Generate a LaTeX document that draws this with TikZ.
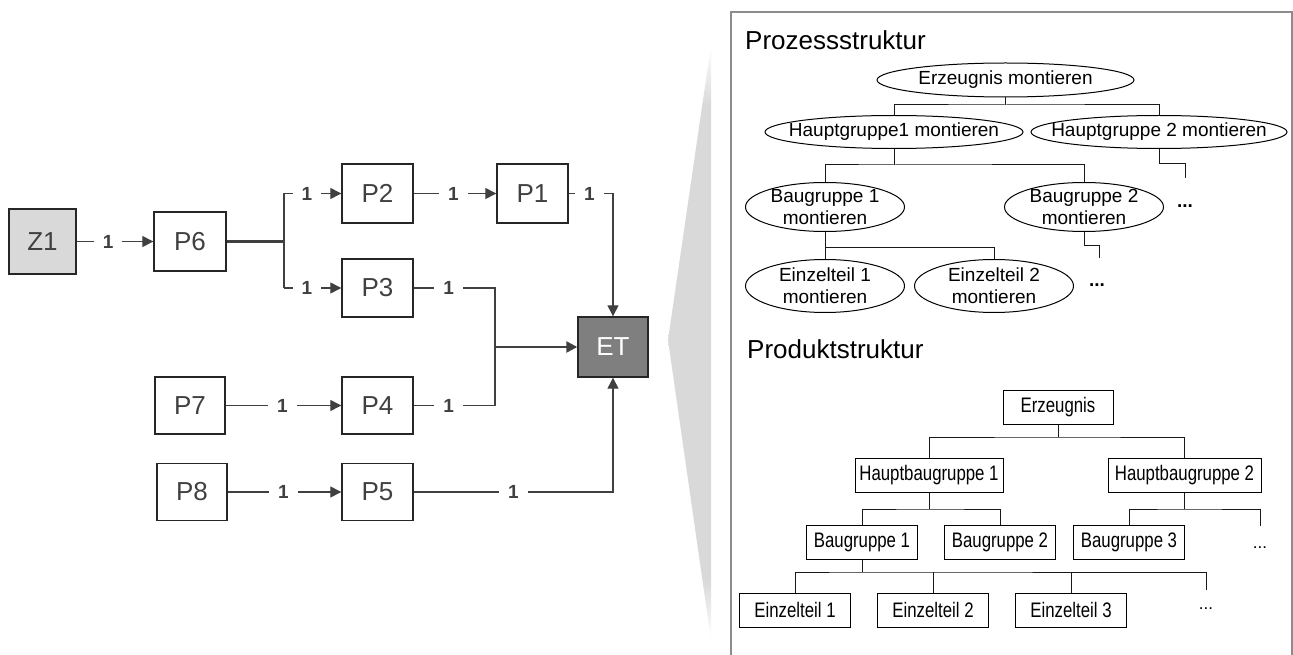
\documentclass[tikz,border=0pt]{standalone}
\usepackage{fontspec}
\setmainfont{Liberation Sans}
\newfontfamily\condfont{Liberation Sans}[FakeStretch=0.8]
\usetikzlibrary{arrows.meta,shapes.geometric}

\definecolor{linegray}{HTML}{404040}
\definecolor{boxgray}{HTML}{D9D9D9}
\definecolor{etgray}{HTML}{7F7F7F}
\definecolor{panelgray}{HTML}{8C8C8C}
\definecolor{wedgegray}{HTML}{D9D9D9}

% light wedge that fades out towards both tips
\pgfdeclareverticalshading{wedgefade}{100bp}{color(0bp)=(white); color(25bp)=(white); color(30bp)=(wedgegray); color(70bp)=(wedgegray); color(75bp)=(white); color(100bp)=(white)}

\begin{document}
\begin{tikzpicture}[x=1pt,y=-1pt,
  proc/.style={draw=black!85, line width=1.4pt, minimum width=71pt, minimum height=58pt,
    inner sep=0pt, font=\fontsize{26}{28}\selectfont, text=linegray},
  conn/.style={draw=linegray, line width=1.3pt},
  heavy/.style={draw=linegray, line width=2.4pt},
  arr/.style={-{Triangle[length=11pt,width=11pt]}},
  qty/.style={fill=white, inner xsep=9pt, inner ysep=2pt,
    font=\bfseries\fontsize{19}{19}\selectfont, text=linegray},
  tree/.style={draw=black!90, line width=1pt},
  % ellipse sized by its minimum width/height only; the text sits in a centred label
  pell/.style={ellipse, draw=black, line width=1pt, inner sep=0pt,
    label={[inner sep=0pt, align=center, font=\fontsize{19}{22}\selectfont]center:#1}},
  pbox/.style={rectangle, draw=black, line width=1pt, inner sep=0pt, minimum height=34pt,
    minimum width=111pt, font=\condfont\fontsize{21}{23}\selectfont},
  title/.style={anchor=base west, inner sep=0pt, font=\fontsize{26}{28}\selectfont},
  dots/.style={inner sep=0pt, font=\fontsize{19}{19}\selectfont}
]
\useasboundingbox (0,0) rectangle (1293,655);

% ---------- process network ----------
\node[proc, fill=boxgray, minimum width=67pt, minimum height=65pt] (Z1) at (42.5,241.5) {Z1};
\node[proc, minimum width=72pt, minimum height=59pt] (P6) at (190,241.5) {P6};
\node[proc, minimum height=59pt] (P2) at (377.5,193.5) {P2};
\node[proc, minimum height=59pt] (P1) at (532.5,193.5) {P1};
\node[proc] (P3) at (377.5,288) {P3};
\node[proc, minimum height=57pt] (P4) at (377.5,405.5) {P4};
\node[proc, minimum width=70pt, minimum height=57pt] (P7) at (190,405.5) {P7};
\node[proc, minimum width=70pt, minimum height=57pt] (P8) at (192,492) {P8};
\node[proc, minimum height=57pt] (P5) at (377.5,492) {P5};
\node[proc, fill=etgray, text=white, minimum width=70pt, minimum height=60pt] (ET) at (613,347) {ET};

\draw[conn,arr] (Z1) -- node[qty,pos=0.41]{1} (P6);

\coordinate (fork) at (284,241.5);
\coordinate (forkA) at (284,193.5);
\coordinate (forkB) at (284,288);
\draw[heavy] (P6.east) -- (fork);
\draw[conn] (forkA) -- (forkB);
\draw[conn,arr] (forkA) -- node[qty,pos=0.4]{1} (P2.west);
\draw[conn,arr] (forkB) -- node[qty,pos=0.4]{1} (P3.west);

\draw[conn,arr] (P2) -- node[qty,pos=0.48]{1} (P1);
\draw[conn,arr] (P1.east) -- node[qty,pos=0.47]{1} (P1.east -| ET) -- (ET.north);

\coordinate (merge) at (495,347);
\draw[conn] (P3.east) -- node[qty,pos=0.43]{1} (P3.east -| merge) -- (merge);
\draw[conn] (P4.east) -- node[qty,pos=0.43]{1} (P4.east -| merge) -- (merge);
\draw[heavy,arr] (merge) -- (ET.west);

\draw[conn,arr] (P7) -- node[qty,pos=0.49]{1} (P4);
\draw[conn,arr] (P8) -- node[qty,pos=0.49]{1} (P5);
\draw[conn,arr] (P5.east) -- node[qty,pos=0.5]{1} (P5.east -| ET) -- (ET.south);

% ---------- zoom wedge ----------
\shade[shading=wedgefade] (711,45) -- (668,340) -- (711,640) -- cycle;

% ---------- detail panel ----------
\draw[draw=panelgray, line width=1.5pt] (731,655) -- (731,12) -- (1292,12) -- (1292,655);

\node[title] (tproc) at (745,50) {Prozessstruktur};
\node[title] (tprod) at (747,358) {Produktstruktur};

% process structure
\node[pell={Erzeugnis montieren}, minimum width=257pt, minimum height=34pt] (E0) at (1005.5,80) {};
\node[pell={Hauptgruppe1 montieren}, minimum width=258pt, minimum height=33pt] (HG1) at (894,132) {};
\node[pell={Hauptgruppe 2 montieren}, minimum width=256pt, minimum height=33pt] (HG2) at (1159,132) {};
\node[pell={Baugruppe 1\\montieren}, minimum width=159pt, minimum height=49pt] (BG1) at (825,207) {};
\node[pell={Baugruppe 2\\montieren}, minimum width=159pt, minimum height=49pt] (BG2) at (1084,207) {};
\node[pell={Einzelteil 1\\montieren}, minimum width=159pt, minimum height=53pt] (ET1) at (825,286) {};
\node[pell={Einzelteil 2\\montieren}, minimum width=159pt, minimum height=53pt] (ET2) at (994,286) {};
\node[dots, font=\bfseries\fontsize{19}{19}\selectfont] (d1) at (1185,206) {...};
\node[dots, font=\bfseries\fontsize{19}{19}\selectfont] (d2) at (1097,285) {...};

\coordinate (j0) at (1005.5,105);
\draw[tree] (E0.south) -- (j0);
\draw[tree] (HG1.north) |- (j0) -| (HG2.north);
\coordinate (j1) at (894,165);
\draw[tree] (HG1.south) -- (j1);
\draw[tree] (BG1.north) |- (j1) -| (BG2.north);
\coordinate (s1) at (1185,178);
\draw[tree] (HG2.south) -- ++(0,15) -| (s1);
\coordinate (j2) at (825,247);
\draw[tree] (BG1.south) -- (ET1.north);
\draw[tree] (j2) -| (ET2.north);
\coordinate (s2) at (1099,258);
\draw[tree] (BG2.south) -- ++(0,13) -| (s2);

% product structure
\node[pbox, minimum width=110pt] (PE) at (1058,407.5) {Erzeugnis};
\node[pbox, minimum width=148pt] (HB1) at (929,475) {Hauptbaugruppe 1};
\node[pbox, minimum width=153pt] (HB2) at (1184.5,475) {Hauptbaugruppe 2};
\node[pbox] (BA1) at (862,542.5) {Baugruppe 1};
\node[pbox] (BA2) at (1000,542.5) {Baugruppe 2};
\node[pbox] (BA3) at (1129,542.5) {Baugruppe 3};
\node[pbox] (EZ1) at (795,610) {Einzelteil 1};
\node[pbox] (EZ2) at (933,610) {Einzelteil 2};
\node[pbox] (EZ3) at (1071,610) {Einzelteil 3};
\node[dots, font=\fontsize{17}{17}\selectfont] (d3) at (1260,548) {...};
\node[dots, font=\fontsize{17}{17}\selectfont] (d4) at (1206,609) {...};

\coordinate (k0) at (1058,437);
\draw[tree] (PE.south) -- (k0);
\draw[tree] (HB1.north) |- (k0) -| (HB2.north);
\coordinate (k1) at (929,509);
\draw[tree] (HB1.south) -- (k1);
\draw[tree] (BA1.north) |- (k1) -| (BA2.north);
\coordinate (k2) at (1184.5,509);
\coordinate (s3) at (1260,526);
\draw[tree] (HB2.south) -- (k2);
\draw[tree] (BA3.north) |- (k2) -| (s3);
\coordinate (k3) at (862,572);
\coordinate (s4) at (1206,590);
\draw[tree] (BA1.south) -- (k3);
\draw[tree] (EZ1.north) |- (k3) -| (s4);
\draw[tree] (EZ2.north) -- (EZ2.north |- k3);
\draw[tree] (EZ3.north) -- (EZ3.north |- k3);
\end{tikzpicture}
\end{document}
